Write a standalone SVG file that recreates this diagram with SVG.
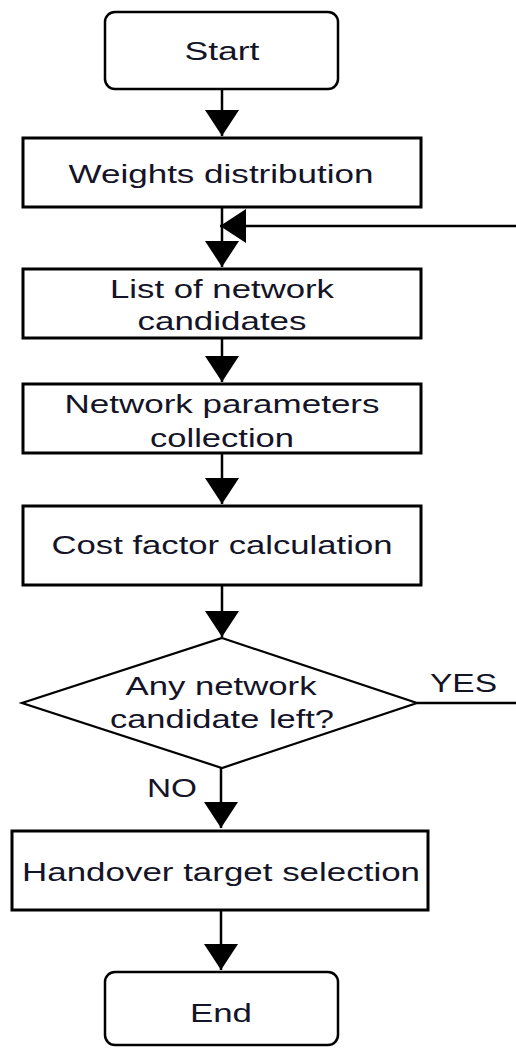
<svg xmlns="http://www.w3.org/2000/svg" width="516" height="1048" viewBox="0 0 516 1048">
<defs>
<style>
.box{fill:#fff;stroke:#000;stroke-width:3}
.term{fill:#fff;stroke:#000;stroke-width:2.5}
.dia{fill:#fff;stroke:#000;stroke-width:2.2}
.t{font-family:"Liberation Sans",Arial,sans-serif;font-size:26px;fill:#141428;text-anchor:middle}
.lbl{font-family:"Liberation Sans",Arial,sans-serif;font-size:26px;fill:#141428}
.c{fill:none;stroke:#000;stroke-width:2.5}
</style>
<marker id="ah" markerUnits="userSpaceOnUse" markerWidth="27" markerHeight="34" refX="26" refY="17" orient="auto" viewBox="0 0 27 34">
<path d="M0,0 L26,17 L0,34 z" fill="#000"/>
</marker>
</defs>
<rect width="516" height="1048" fill="#fff"/>
<g id="connectors">
<line class="c" x1="222" y1="89" x2="222" y2="136" marker-end="url(#ah)"/>
<line class="c" x1="222" y1="207" x2="222" y2="267" marker-end="url(#ah)"/>
<line class="c" x1="516" y1="226" x2="220" y2="226" stroke-width="2" marker-end="url(#ah)"/>
<line class="c" x1="222" y1="338" x2="222" y2="382" marker-end="url(#ah)"/>
<line class="c" x1="222" y1="453" x2="222" y2="504" marker-end="url(#ah)"/>
<line class="c" x1="222" y1="585" x2="222" y2="637" marker-end="url(#ah)"/>
<line class="c" x1="417" y1="703" x2="516" y2="703" stroke-width="2"/>
<line class="c" x1="221" y1="768" x2="221" y2="828" marker-end="url(#ah)"/>
<line class="c" x1="221" y1="910" x2="221" y2="970" marker-end="url(#ah)"/>
<text class="lbl" x="430" y="692" textLength="67" lengthAdjust="spacingAndGlyphs">YES</text>
<text class="lbl" x="147" y="797" textLength="50" lengthAdjust="spacingAndGlyphs">NO</text>
</g>
<g id="start">
<rect class="term" x="105" y="12" width="233" height="77" rx="10"/>
<text class="t" x="222" y="60" textLength="75" lengthAdjust="spacingAndGlyphs">Start</text>
</g>
<g id="weights">
<rect class="box" x="23" y="138" width="398" height="69"/>
<text class="t" x="221" y="183" textLength="305" lengthAdjust="spacingAndGlyphs">Weights distribution</text>
</g>
<g id="list">
<rect class="box" x="23" y="269" width="398" height="69"/>
<text class="t" x="222" y="298" textLength="224" lengthAdjust="spacingAndGlyphs">List of network</text>
<text class="t" x="222" y="330" textLength="169" lengthAdjust="spacingAndGlyphs">candidates</text>
</g>
<g id="params">
<rect class="box" x="23" y="384" width="398" height="69"/>
<text class="t" x="222" y="413" textLength="315" lengthAdjust="spacingAndGlyphs">Network parameters</text>
<text class="t" x="222" y="447" textLength="144" lengthAdjust="spacingAndGlyphs">collection</text>
</g>
<g id="cost">
<rect class="box" x="23" y="506" width="398" height="79"/>
<text class="t" x="222" y="554" textLength="341" lengthAdjust="spacingAndGlyphs">Cost factor calculation</text>
</g>
<g id="decision">
<polygon class="dia" points="222,638 417,703 222,768 22,703"/>
<text class="t" x="221" y="695" textLength="191" lengthAdjust="spacingAndGlyphs">Any network</text>
<text class="t" x="222" y="728" textLength="224" lengthAdjust="spacingAndGlyphs">candidate left?</text>
</g>
<g id="handover">
<rect class="box" x="12" y="831" width="416" height="79"/>
<text class="t" x="221" y="881" textLength="398" lengthAdjust="spacingAndGlyphs">Handover target selection</text>
</g>
<g id="end">
<rect class="term" x="105" y="972" width="233" height="73" rx="10"/>
<text class="t" x="221" y="1022" textLength="62" lengthAdjust="spacingAndGlyphs">End</text>
</g>
</svg>
